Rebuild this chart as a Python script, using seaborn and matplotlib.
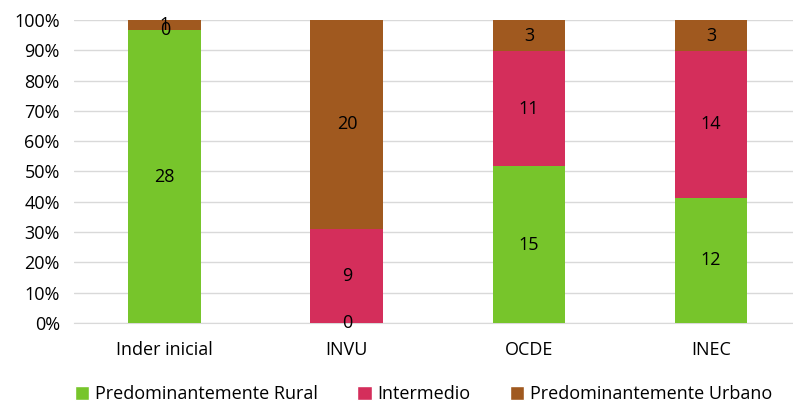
import numpy as np
import pandas as pd
import seaborn as sns
import matplotlib.pyplot as plt
from matplotlib.patches import Patch

categorias = ['Inder inicial', 'INVU', 'OCDE', 'INEC']
rural = [28, 0, 15, 12]
intermedio = [0, 9, 11, 14]
urbano = [1, 20, 3, 3]
series = ['Predominantemente Rural', 'Intermedio', 'Predominantemente Urbano']
colores = ['#77C52B', '#D42E5B', '#A0591F']

sns.set_style('white')
plt.rcParams['font.family'] = ['Open Sans', 'DejaVu Sans']
plt.rcParams['text.color'] = 'black'

df = pd.DataFrame({'cat': categorias, 'rural': rural, 'inter': intermedio, 'urb': urbano})
total = df[['rural', 'inter', 'urb']].sum(axis=1)
df['p_rural'] = df['rural'] / total
df['p_inter'] = df['inter'] / total
df['p_urb'] = df['urb'] / total
df['c1'] = df['p_rural']
df['c2'] = df['p_rural'] + df['p_inter']
df['c3'] = df['c2'] + df['p_urb']

fig = plt.figure(figsize=(7.93, 4.04), dpi=100)
ax = fig.add_axes([0.093, 0.2005, 0.907, 0.75])

# overlapped cumulative bars -> stacked look
for col, c in zip(['c3', 'c2', 'c1'], colores[::-1]):
    sns.barplot(data=df, x='cat', y=col, color=c, saturation=1, width=0.4,
                linewidth=0, edgecolor='none', ax=ax, zorder=3)

# value labels
fs = 13
for i in range(len(df)):
    row = df.iloc[i]
    ax.text(i, row['c1'] / 2, str(row['rural']), ha='center', va='center', fontsize=fs, color='black', zorder=5)
    ax.text(i, (row['c1'] + row['c2']) / 2, str(row['inter']), ha='center', va='center', fontsize=fs, color='black', zorder=5)
    ax.text(i, (row['c2'] + row['c3']) / 2, str(row['urb']), ha='center', va='center', fontsize=fs, color='black', zorder=5)

ax.set_ylim(0, 1)
ax.set_xlim(-0.5, 3.45)
ax.set_yticks(np.arange(0, 1.01, 0.1))
ax.set_yticklabels([f'{int(round(v*100))}%' for v in np.arange(0, 1.01, 0.1)])
ax.yaxis.grid(True, color='#D9D9D9', linewidth=1)
ax.set_axisbelow(True)
for s in ['top', 'right', 'left']:
    ax.spines[s].set_visible(False)
ax.spines['bottom'].set_color('#D9D9D9')
ax.tick_params(axis='both', length=0, labelsize=fs, colors='black')
ax.tick_params(axis='x', pad=13)
ax.tick_params(axis='y', pad=10)
ax.set_xlabel('')
ax.set_ylabel('')

handles = [Patch(facecolor=c, label=s) for s, c in zip(series, colores)]
fig.legend(handles=handles, loc='center', bbox_to_anchor=(0.534, 0.025), ncol=3, frameon=False,
           fontsize=fs, handlelength=0.8, handleheight=0.8, handletextpad=0.3, columnspacing=2.2)

fig.savefig('out.png', dpi=100)
